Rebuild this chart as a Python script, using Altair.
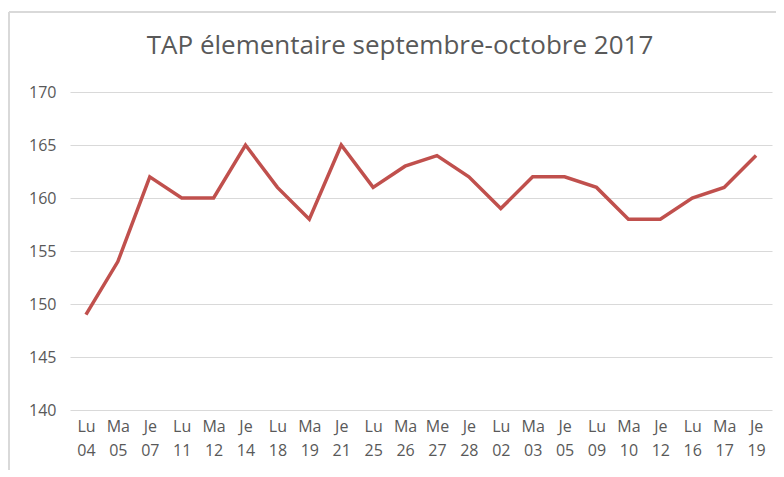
import altair as alt
import pandas as pd

days = ["Lu 04", "Ma 05", "Je 07", "Lu 11", "Ma 12", "Je 14", "Lu 18", "Ma 19",
        "Je 21", "Lu 25", "Ma 26", "Me 27", "Je 28", "Lu 02", "Ma 03", "Je 05",
        "Lu 09", "Ma 10", "Je 12", "Lu 16", "Ma 17", "Je 19"]
values = [149, 154, 162, 160, 160, 165, 161, 158, 165, 161, 163, 164, 162, 159,
          162, 162, 161, 158, 158, 160, 161, 164]
title_text = "TAP élementaire septembre-octobre 2017"

df = pd.DataFrame({"jour": days, "valeur": values})

font = "Open Sans"
grey = "#595959"

line = alt.Chart(df).mark_line(color="#c0504d", strokeWidth=3.5, strokeJoin="miter").encode(
    x=alt.X("jour:N", sort=None, title=None,
            scale=alt.Scale(paddingInner=1, paddingOuter=0.5),
            axis=alt.Axis(labelAngle=0, labelExpr="split(datum.label, ' ')",
                          labelLineHeight=24, labelPadding=8, ticks=False,
                          domain=False, grid=False, labelFontSize=16,
                          labelColor=grey, labelFont=font, labelBaseline="top")),
    y=alt.Y("valeur:Q", title=None,
            scale=alt.Scale(domain=[140, 170], nice=False, zero=False),
            axis=alt.Axis(values=[140, 145, 150, 155, 160, 165, 170], ticks=False,
                          domain=False, gridColor="#d9d9d9", gridWidth=1,
                          labelFontSize=16, labelColor=grey, labelFont=font,
                          labelPadding=14)),
)

frame_left = alt.Chart(df).mark_rule(color="#d9d9d9", strokeWidth=1.5).encode(
    x=alt.value(-61), y=alt.value(-80), y2=alt.value(390)
)
frame_top = alt.Chart(df).mark_rule(color="#d9d9d9", strokeWidth=1.5).encode(
    x=alt.value(-61), x2=alt.value(710), y=alt.value(-80)
)
title = alt.Chart(pd.DataFrame({"t": [title_text]})).mark_text(
    font=font, fontSize=26, color=grey, align="center", baseline="middle"
).encode(text="t:N", x=alt.value(330), y=alt.value(-46))

chart = alt.layer(line, frame_left, frame_top, title).properties(
    width=702, height=318,
    autosize=alt.AutoSizeParams(type="none"),
    padding={"left": 62, "top": 84, "right": 4, "bottom": 60},
).configure(background="white").configure_view(stroke=None)

chart.save("out.html", embed_options={"renderer": "svg", "actions": False})
